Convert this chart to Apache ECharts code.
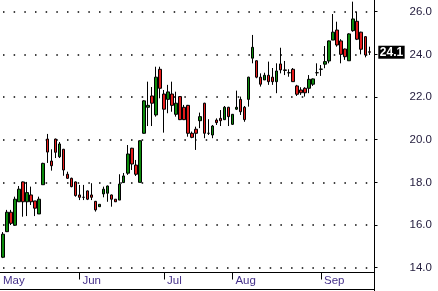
<!DOCTYPE html>
<html><head><meta charset="utf-8">
<script src="https://cdn.jsdelivr.net/npm/echarts@6/dist/echarts.min.js"></script>
<style>html,body{margin:0;padding:0;background:#fff}#c{width:438px;height:291px}</style>
</head><body><div id="c"></div>
<script>
const dates = [
 '05-05','05-06','05-07','05-08','05-09','05-12','05-13','05-14','05-15','05-16','05-19','05-20','05-21','05-22','05-23','05-27','05-28','05-29','05-30',
 '06-02','06-03','06-04','06-05','06-06','06-09','06-10','06-11','06-12','06-13','06-16','06-17','06-18','06-19','06-20','06-23','06-24','06-25','06-26','06-27','06-30',
 '07-01','07-02','07-03','07-07','07-08','07-09','07-10','07-11','07-14','07-15','07-16','07-17','07-18','07-21','07-22','07-23','07-24',
 '08-01','08-04','08-05','08-06','08-07','08-08','08-11','08-12','08-13','08-14','08-15','08-18','08-19','08-20','08-21','08-22','08-25','08-26','08-27','08-28','08-29','08-30',
 '09-02','09-03','09-04','09-05','09-08','09-09','09-10','09-11','09-12','09-15','09-16','09-17','09-18'
];
const opens = [14.49,15.69,16.60,15.99,17.09,18.02,17.09,17.41,17.13,16.52,17.89,20.03,19.00,20.03,19.20,19.55,18.38,18.19,18.02,
 17.41,17.30,17.60,17.41,17.11,16.86,17.46,17.49,17.41,17.21,17.17,17.99,18.43,19.60,18.81,18.00,20.30,21.52,22.05,21.16,23.30,
 22.14,21.89,22.14,21.19,22.02,21.52,21.61,20.30,20.49,20.89,21.71,20.30,20.22,20.92,21.00,20.94,21.52,
 20.72,21.43,21.89,21.52,21.89,23.82,23.70,22.93,22.80,23.02,22.93,22.72,23.55,23.27,23.14,23.30,22.52,22.33,22.41,22.41,22.60,23.14,
 23.30,23.54,23.69,24.67,25.14,24.63,24.25,23.70,25.11,25.55,25.04,24.83,24.12];
const closes = [15.57,16.60,16.08,17.21,17.68,17.09,17.52,17.09,16.79,17.21,18.89,19.42,18.78,19.41,19.80,18.58,18.19,17.80,17.38,
 17.30,17.30,17.21,17.30,16.71,16.97,17.68,17.83,17.21,17.09,17.92,18.30,19.33,18.86,18.38,19.95,21.82,21.61,21.71,22.93,22.41,
 21.43,22.24,21.61,21.71,20.94,20.94,20.30,20.11,20.30,21.08,20.30,20.30,20.64,20.80,20.89,21.52,21.08,
 21.19,21.52,21.31,20.94,22.93,24.33,22.93,22.60,23.02,22.72,22.72,23.22,23.27,23.25,23.14,22.72,22.13,22.20,22.20,22.83,22.85,23.14,
 23.31,23.66,24.63,25.04,24.44,24.00,23.89,24.96,25.66,24.71,24.24,23.97,24.10];
const lows = [14.45,15.67,16.00,15.99,17.08,16.39,16.42,16.94,16.42,16.52,17.89,18.91,18.55,19.14,19.14,18.31,18.16,17.77,17.33,
 17.17,17.17,17.17,17.17,16.63,16.86,17.30,17.09,16.86,17.08,17.17,17.97,18.35,18.58,18.30,18.00,20.28,20.64,20.64,21.08,21.94,
 20.33,21.24,21.31,21.08,20.92,20.92,20.14,20.07,19.52,20.54,20.07,20.22,20.07,20.69,20.64,20.92,20.64,
 20.69,21.39,21.16,20.84,21.55,23.58,22.88,22.49,22.80,22.57,22.57,22.18,23.11,23.03,22.95,22.71,22.05,22.10,22.02,22.18,22.52,22.99,
 22.99,23.35,23.58,24.67,24.36,23.58,23.74,23.70,25.06,24.67,24.00,23.86,23.97];
const highs = [15.67,16.71,16.71,17.33,17.83,18.04,18.02,17.80,17.13,17.33,18.92,20.27,19.55,20.05,19.89,19.57,18.50,18.22,18.04,
 17.88,17.88,17.62,17.96,17.13,16.97,17.80,17.85,17.43,17.22,18.38,18.44,19.75,19.62,19.05,19.97,21.85,22.72,22.47,23.42,23.42,
 22.33,22.57,22.72,22.25,22.04,21.63,21.63,20.38,20.61,21.27,21.73,20.96,20.69,21.00,21.39,21.58,21.54,
 21.20,22.30,22.02,21.58,22.95,24.91,23.72,23.11,23.14,23.66,23.36,23.58,24.31,23.69,23.30,23.36,22.57,22.46,22.46,23.03,22.87,23.58,
 23.50,24.39,24.65,25.89,25.53,24.71,24.27,24.99,26.47,26.00,25.06,24.85,24.36];
const monthNames = {'05':'May','06':'Jun','07':'Jul','08':'Aug','09':'Sep'};
const yMin = 13.775, yMax = 26.548, yStep = 2;

const ohlc = opens.map((o, i) => [o, closes[i], lows[i], highs[i]]);
const isMonthStart = i => i === 0 || dates[i].slice(0, 2) !== dates[i - 1].slice(0, 2);
const lastClose = closes[closes.length - 1];
const FONT = '"Liberation Sans", Arial, sans-serif';

const chart = echarts.init(document.getElementById('c'), null, {renderer: 'canvas'});
chart.setOption({
  animation: false,
  backgroundColor: '#fff',
  grid: {left: -0.7, right: 66.7, top: 0, bottom: 18.5, containLabel: false},
  xAxis: {
    type: 'category', data: dates, boundaryGap: true,
    axisLine: {show: false},
    axisTick: {show: true, alignWithLabel: true, length: 7, interval: i => i > 0 && isMonthStart(i), lineStyle: {color: '#000', width: 1}},
    axisLabel: {
      interval: i => isMonthStart(i), align: 'left', margin: 2,
      formatter: (v, i) => (i === 0 ? '{f|' : '{m|') + monthNames[v.slice(0, 2)] + '}',
      rich: {
        f: {fontSize: 11.5, fontFamily: FONT, color: '#45308a', padding: [0, 0, 0, 0]},
        m: {fontSize: 11.5, fontFamily: FONT, color: '#45308a', padding: [0, 0, 0, 3]}
      }
    },
    splitLine: {show: false}
  },
  yAxis: {
    type: 'value', position: 'right', min: yMin, max: yMax, minInterval: yStep, maxInterval: yStep, offset: 3.2,
    axisLine: {show: false},
    axisTick: {show: true, length: 3, lineStyle: {color: '#000'}},
    axisLabel: {margin: 35, align: 'left', formatter: v => v.toFixed(1), showMinLabel: false, showMaxLabel: false,
      color: '#262040', fontSize: 11.5, fontFamily: FONT},
    splitLine: {show: true, showMinLine: false, showMaxLine: false,
      lineStyle: {color: '#000', width: 1.5, type: [1.5, 9.17], dashOffset: -2}}
  },
  series: [{
    type: 'candlestick', data: ohlc, barWidth: 3,
    itemStyle: {color: '#0b8a0b', color0: '#e41b1b', borderColor: '#000', borderColor0: '#000', borderWidth: 1},
    markLine: {
      silent: true, symbol: 'none', data: [{yAxis: lastClose}],
      lineStyle: {color: 'rgba(0,0,0,0)', width: 1, type: 'solid'},
      label: {show: true, position: 'end', distance: 7, formatter: () => lastClose.toFixed(1),
        backgroundColor: '#000', color: '#fff', fontSize: 12, fontWeight: 'bold', fontFamily: FONT,
        lineHeight: 12, padding: [1, 1.5, 0, 1.5]}
    }
  }],
  graphic: [
    {type: 'line', silent: true, shape: {x1: 0, y1: 272.5, x2: 375, y2: 272.5}, style: {stroke: '#000', lineWidth: 1}},
    {type: 'line', silent: true, shape: {x1: 0, y1: 289.5, x2: 375, y2: 289.5}, style: {stroke: '#000', lineWidth: 1}},
    {type: 'line', silent: true, shape: {x1: 374.5, y1: 0, x2: 374.5, y2: 291}, style: {stroke: '#000', lineWidth: 1}}
  ]
});
</script>
</body></html>
